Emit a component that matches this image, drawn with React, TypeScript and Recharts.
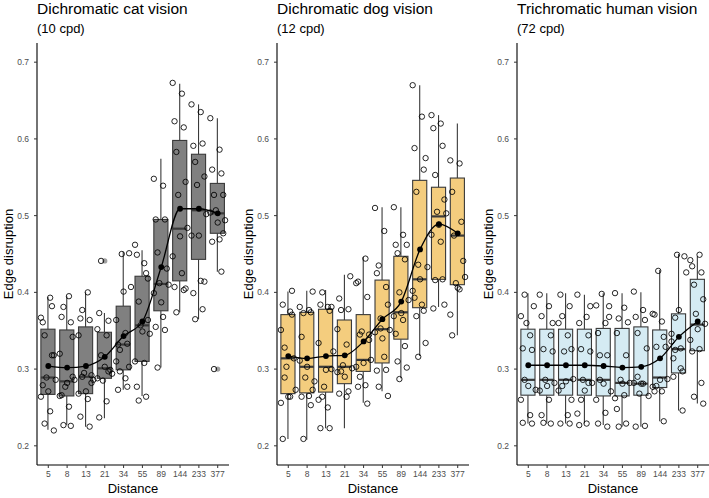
import React from 'react';
import { ComposedChart, XAxis, YAxis, Bar, Line, Scatter } from 'recharts';

const distances = ['5', '8', '13', '21', '34', '55', '89', '144', '233', '377'];
const yTicks = [0.2, 0.3, 0.4, 0.5, 0.6, 0.7];

// cat vision (10 cpd)
const catQ1 = [0.267, 0.265, 0.268, 0.288, 0.299, 0.31, 0.376, 0.415, 0.443, 0.477];
const catMedian = [0.289, 0.284, 0.29, 0.301, 0.332, 0.357, 0.411, 0.483, 0.507, 0.503];
const catQ3 = [0.352, 0.351, 0.355, 0.348, 0.382, 0.421, 0.495, 0.598, 0.58, 0.542];
const catLow = [0.221, 0.227, 0.225, 0.236, 0.273, 0.265, 0.302, 0.374, 0.365, 0.427];
const catHigh = [0.394, 0.395, 0.4, 0.373, 0.453, 0.455, 0.574, 0.672, 0.645, 0.627];
const catMean = [0.304, 0.302, 0.304, 0.316, 0.343, 0.362, 0.433, 0.509, 0.509, 0.503];
const catPoints = [
  [0.367, 0.393, 0.361, 0.382, 0.344, 0.318, 0.289, 0.286, 0.271, 0.264, 0.245, 0.279, 0.318, 0.229, 0.22],
  [0.32, 0.395, 0.368, 0.361, 0.381, 0.342, 0.277, 0.286, 0.282, 0.265, 0.251, 0.266, 0.226, 0.227, 0.29],
  [0.344, 0.4, 0.366, 0.364, 0.377, 0.292, 0.295, 0.286, 0.271, 0.268, 0.261, 0.238, 0.225, 0.29, 0.282],
  [0.352, 0.344, 0.373, 0.363, 0.318, 0.299, 0.285, 0.294, 0.303, 0.288, 0.258, 0.237, 0.297, 0.441],
  [0.364, 0.347, 0.332, 0.333, 0.325, 0.451, 0.45, 0.407, 0.401, 0.31, 0.288, 0.273, 0.277, 0.297, 0.303],
  [0.462, 0.438, 0.449, 0.425, 0.388, 0.364, 0.357, 0.346, 0.349, 0.31, 0.308, 0.277, 0.264, 0.259, 0.418],
  [0.548, 0.539, 0.495, 0.495, 0.452, 0.431, 0.412, 0.41, 0.387, 0.399, 0.368, 0.355, 0.351, 0.302],
  [0.673, 0.659, 0.623, 0.615, 0.583, 0.544, 0.527, 0.484, 0.473, 0.447, 0.425, 0.407, 0.403, 0.374, 0.405],
  [0.645, 0.635, 0.591, 0.594, 0.57, 0.551, 0.54, 0.502, 0.474, 0.474, 0.415, 0.399, 0.378, 0.365, 0.414],
  [0.627, 0.586, 0.56, 0.555, 0.527, 0.527, 0.507, 0.494, 0.491, 0.504, 0.469, 0.466, 0.427, 0.3, 0.477],
];
const catOutliers = [
  { d: '21', v: 0.441 },
  { d: '377', v: 0.3 },
];

// dog vision (12 cpd)
const dogQ1 = [0.268, 0.269, 0.27, 0.281, 0.297, 0.308, 0.339, 0.38, 0.417, 0.41];
const dogMedian = [0.314, 0.303, 0.303, 0.303, 0.312, 0.352, 0.374, 0.417, 0.499, 0.474];
const dogQ3 = [0.371, 0.374, 0.378, 0.364, 0.371, 0.416, 0.447, 0.546, 0.537, 0.549];
const dogLow = [0.209, 0.208, 0.223, 0.223, 0.256, 0.271, 0.288, 0.317, 0.381, 0.344];
const dogHigh = [0.401, 0.402, 0.403, 0.423, 0.446, 0.511, 0.511, 0.67, 0.631, 0.62];
const dogMean = [0.317, 0.314, 0.317, 0.318, 0.336, 0.365, 0.388, 0.456, 0.489, 0.477];
const dogPoints = [
  [0.351, 0.375, 0.384, 0.371, 0.328, 0.314, 0.303, 0.273, 0.264, 0.256, 0.264, 0.209, 0.402, 0.289],
  [0.381, 0.377, 0.342, 0.374, 0.373, 0.401, 0.289, 0.284, 0.303, 0.311, 0.265, 0.264, 0.253, 0.209, 0.273],
  [0.334, 0.381, 0.384, 0.376, 0.4, 0.3, 0.277, 0.323, 0.299, 0.26, 0.25, 0.223, 0.223, 0.264, 0.381],
  [0.352, 0.332, 0.392, 0.378, 0.377, 0.421, 0.305, 0.301, 0.29, 0.296, 0.264, 0.268, 0.271, 0.297],
  [0.412, 0.444, 0.414, 0.394, 0.345, 0.345, 0.349, 0.312, 0.308, 0.303, 0.279, 0.277, 0.255, 0.29, 0.338],
  [0.51, 0.48, 0.425, 0.407, 0.435, 0.384, 0.353, 0.351, 0.34, 0.348, 0.316, 0.298, 0.299, 0.277, 0.265, 0.366],
  [0.511, 0.475, 0.462, 0.443, 0.451, 0.462, 0.4, 0.39, 0.373, 0.369, 0.364, 0.346, 0.33, 0.31, 0.302, 0.287],
  [0.67, 0.629, 0.588, 0.56, 0.531, 0.575, 0.436, 0.433, 0.417, 0.402, 0.384, 0.393, 0.376, 0.369, 0.334, 0.316],
  [0.631, 0.62, 0.614, 0.591, 0.553, 0.521, 0.505, 0.503, 0.488, 0.475, 0.466, 0.379, 0.417, 0.416, 0.384],
  [0.572, 0.568, 0.531, 0.492, 0.474, 0.441, 0.412, 0.42, 0.406, 0.371, 0.404, 0.344],
];

// human vision (72 cpd)
const humanQ1 = [0.266, 0.266, 0.266, 0.266, 0.265, 0.265, 0.266, 0.276, 0.295, 0.324];
const humanMedian = [0.286, 0.286, 0.286, 0.286, 0.286, 0.282, 0.281, 0.289, 0.326, 0.358];
const humanQ3 = [0.352, 0.352, 0.352, 0.352, 0.353, 0.353, 0.355, 0.351, 0.372, 0.417];
const humanLow = [0.229, 0.229, 0.229, 0.229, 0.227, 0.225, 0.225, 0.232, 0.246, 0.255];
const humanHigh = [0.399, 0.399, 0.399, 0.397, 0.399, 0.399, 0.4, 0.429, 0.45, 0.447];
const humanMean = [0.305, 0.305, 0.305, 0.305, 0.304, 0.302, 0.303, 0.314, 0.342, 0.362];
const humanPoints = [
  [0.369, 0.344, 0.327, 0.325, 0.397, 0.382, 0.36, 0.273, 0.278, 0.26, 0.24, 0.23, 0.229, 0.286],
  [0.397, 0.382, 0.369, 0.344, 0.326, 0.323, 0.286, 0.282, 0.278, 0.272, 0.26, 0.24, 0.229, 0.23, 0.36],
  [0.36, 0.344, 0.397, 0.382, 0.369, 0.326, 0.323, 0.287, 0.284, 0.272, 0.24, 0.229, 0.229, 0.278, 0.26],
  [0.397, 0.368, 0.36, 0.344, 0.326, 0.323, 0.286, 0.282, 0.272, 0.242, 0.229, 0.227, 0.282, 0.26, 0.382],
  [0.383, 0.36, 0.347, 0.318, 0.318, 0.368, 0.398, 0.271, 0.281, 0.26, 0.243, 0.229, 0.225, 0.286, 0.382],
  [0.399, 0.38, 0.347, 0.318, 0.366, 0.361, 0.286, 0.282, 0.281, 0.262, 0.266, 0.248, 0.229, 0.225],
  [0.401, 0.377, 0.368, 0.364, 0.347, 0.327, 0.268, 0.265, 0.281, 0.282, 0.281, 0.225, 0.226, 0.29],
  [0.372, 0.362, 0.371, 0.342, 0.329, 0.329, 0.428, 0.287, 0.286, 0.277, 0.271, 0.271, 0.232, 0.278],
  [0.336, 0.301, 0.29, 0.297, 0.367, 0.447, 0.449, 0.426, 0.377, 0.346, 0.327, 0.314, 0.246, 0.325],
  [0.442, 0.449, 0.434, 0.426, 0.41, 0.391, 0.372, 0.359, 0.352, 0.338, 0.326, 0.323, 0.282, 0.264, 0.255],
];

const FONT = '"Liberation Sans", Arial, sans-serif';
const PLOT_W = 192;
const AXIS_W = 37;

// deterministic horizontal spread of the raw points inside each category
const jitter = (k: number) => (((k * 5) % 9) - 4) * 0.098;

const BoxShape = (props: any) => {
  const { x, y, width, height, payload, fill } = props;
  const span = payload.high - payload.low;
  const py = (v: number) => y + ((payload.high - v) / span) * height;
  const cx = x + width / 2;
  return (
    <g>
      <line x1={cx} x2={cx} y1={py(payload.high)} y2={py(payload.q3)} stroke="#3a3a3a" strokeWidth={1.1} />
      <line x1={cx} x2={cx} y1={py(payload.q1)} y2={py(payload.low)} stroke="#3a3a3a" strokeWidth={1.1} />
      <rect x={x} y={py(payload.q3)} width={width} height={py(payload.q1) - py(payload.q3)}
        fill={fill} stroke="#3a3a3a" strokeWidth={1.1} />
      <line x1={x} x2={x + width} y1={py(payload.median)} y2={py(payload.median)} stroke="#3a3a3a" strokeWidth={2.2} />
    </g>
  );
};

const OpenDot = (props: any) => (
  <circle cx={props.cx} cy={props.cy} r={2.7} fill="none" stroke="#000" strokeWidth={0.85} />
);
const OutlierDot = (props: any) => (
  <circle cx={props.cx} cy={props.cy} r={2.6} fill="#a0a0a0" stroke="none" />
);

type PanelProps = {
  left: number;
  title: string;
  sub: string;
  fill: string;
  q1: number[];
  median: number[];
  q3: number[];
  low: number[];
  high: number[];
  mean: number[];
  points: number[][];
  outliers: { d: string; v: number }[];
};

const Panel = ({ left, title, sub, fill, q1, median, q3, low, high, mean, points, outliers }: PanelProps) => {
  const rows = distances.map((d, i) => ({
    label: d, q1: q1[i], median: median[i], q3: q3[i], low: low[i], high: high[i], mean: mean[i],
  }));
  const pts = points.flatMap((vals, i) => vals.map((v, k) => ({ x: i + jitter(k), y: v })));
  const outs = outliers.map((o) => ({ x: distances.indexOf(o.d), y: o.v }));
  const plotLeft = left + AXIS_W;
  const pad = PLOT_W / 102;

  return (
    <>
      <div style={{ position: 'absolute', left: plotLeft, top: 1, fontSize: 15.5, lineHeight: 1, whiteSpace: 'nowrap' }}>
        {title}
      </div>
      <div style={{ position: 'absolute', left: plotLeft, top: 22, fontSize: 13, lineHeight: 1, whiteSpace: 'nowrap' }}>
        {sub}
      </div>
      <div style={{
        position: 'absolute', left: plotLeft - 29, top: 254, fontSize: 13, lineHeight: 1, whiteSpace: 'nowrap',
        transform: 'translate(-50%, -50%) rotate(-90deg)',
      }}>
        Edge disruption
      </div>
      <div style={{
        position: 'absolute', left: plotLeft + PLOT_W / 2, top: 482, fontSize: 13, lineHeight: 1, whiteSpace: 'nowrap',
        transform: 'translateX(-50%)',
      }}>
        Distance
      </div>
      <div style={{ position: 'absolute', left, top: 0 }}>
        <ComposedChart width={AXIS_W + PLOT_W} height={498} data={rows}
          margin={{ top: 43, right: 0, bottom: 3, left: 0 }} style={{ fontFamily: FONT }}>
          <XAxis xAxisId="cat" dataKey="label" type="category" interval={0} height={30}
            padding={{ left: pad, right: pad }} tickSize={3} tickMargin={3}
            tick={{ fontSize: 8.5, fill: '#4d4d4d' }} axisLine={{ stroke: '#000', strokeWidth: 1.1 }}
            tickLine={{ stroke: '#333' }} />
          <XAxis xAxisId="num" dataKey="x" type="number" domain={[-0.6, 9.6]} allowDataOverflow hide />
          <YAxis type="number" domain={[0.175, 0.725]} ticks={yTicks} allowDataOverflow width={AXIS_W}
            tickFormatter={(v: number) => v.toFixed(1)} tickSize={3} tickMargin={5}
            tick={{ fontSize: 8.5, fill: '#4d4d4d' }} axisLine={{ stroke: '#000', strokeWidth: 1.1 }}
            tickLine={{ stroke: '#333' }} />
          <Bar xAxisId="cat" dataKey={(r: any) => [r.low, r.high]} barSize={PLOT_W / 10.2 * 0.75}
            fill={fill} shape={BoxShape} isAnimationActive={false} />
          <Scatter xAxisId="num" data={outs} dataKey="y" shape={OutlierDot} isAnimationActive={false} />
          <Scatter xAxisId="num" data={pts} dataKey="y" shape={OpenDot} isAnimationActive={false} />
          <Line xAxisId="cat" dataKey="mean" type="monotone" stroke="#000" strokeWidth={1.3}
            dot={{ r: 2.9, fill: '#000', stroke: '#000', strokeWidth: 0 }} isAnimationActive={false} />
        </ComposedChart>
      </div>
    </>
  );
};

export default function App() {
  return (
    <div style={{
      position: 'absolute', left: 0, top: 0, width: 709, height: 498, overflow: 'hidden',
      background: '#fff', fontFamily: FONT, color: '#000',
    }}>
      <Panel left={0} title="Dichromatic cat vision" sub="(10 cpd)" fill="#808080"
        q1={catQ1} median={catMedian} q3={catQ3} low={catLow} high={catHigh} mean={catMean}
        points={catPoints} outliers={catOutliers} />
      <Panel left={240} title="Dichromatic dog vision" sub="(12 cpd)" fill="#f4cd7e"
        q1={dogQ1} median={dogMedian} q3={dogQ3} low={dogLow} high={dogHigh} mean={dogMean}
        points={dogPoints} outliers={[]} />
      <Panel left={480} title="Trichromatic human vision" sub="(72 cpd)" fill="#d5ebf3"
        q1={humanQ1} median={humanMedian} q3={humanQ3} low={humanLow} high={humanHigh} mean={humanMean}
        points={humanPoints} outliers={[]} />
    </div>
  );
}
